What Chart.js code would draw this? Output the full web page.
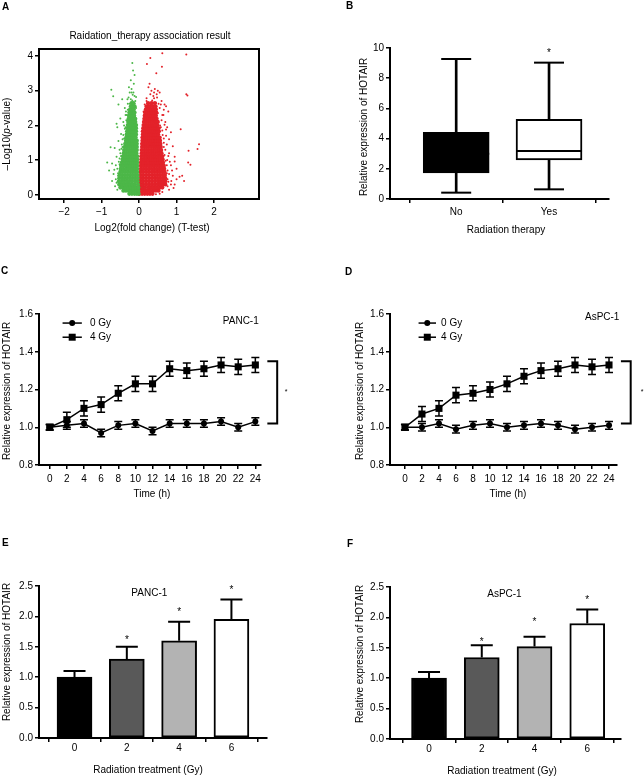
<!DOCTYPE html>
<html>
<head>
<meta charset="utf-8">
<script src="https://cdn.jsdelivr.net/npm/chart.js@4.4.1/dist/chart.umd.min.js"></script>
<style>
html, body { margin: 0; padding: 0; background: #fff; }
#fig { position: relative; width: 644px; height: 776px; overflow: hidden; font-family: 'Liberation Sans', Arial, sans-serif; }
#fig canvas { position: absolute; left: 0; top: 0; }
.lbl { position: absolute; font-weight: bold; font-size: 10px; line-height: 10px; }
</style>
</head>
<body>
<div id="fig">
  <canvas id="cA" width="644" height="776"></canvas>
  <canvas id="cB" width="644" height="776"></canvas>
  <canvas id="cC" width="644" height="776"></canvas>
  <canvas id="cD" width="644" height="776"></canvas>
  <canvas id="cE" width="644" height="776"></canvas>
  <canvas id="cF" width="644" height="776"></canvas>
  <div class="lbl" style="left:2px;top:2px">A</div>
  <div class="lbl" style="left:346px;top:1px">B</div>
  <div class="lbl" style="left:1px;top:266px">C</div>
  <div class="lbl" style="left:345px;top:267px">D</div>
  <div class="lbl" style="left:2px;top:538px">E</div>
  <div class="lbl" style="left:347px;top:539px">F</div>
</div>
<script>
const FONT = "'Liberation Sans', Arial, sans-serif";

// A: volcano plot
const volcanoXTicks = [-2, -1, 0, 1, 2];
const volcanoYTicks = [0, 1, 2, 3, 4];
const greenDense = [
  {y: 0.03, x: [-0.26, -0.19, -0.12, -0.06, -0.01]},
  {y: 0.12, x: [-0.42, -0.35, -0.28, -0.21, -0.14, -0.08, -0.02]},
  {y: 0.21, x: [-0.50, -0.43, -0.36, -0.29, -0.22, -0.15, -0.08, -0.02]},
  {y: 0.30, x: [-0.53, -0.46, -0.39, -0.32, -0.25, -0.18, -0.11, -0.03]},
  {y: 0.39, x: [-0.54, -0.47, -0.40, -0.33, -0.26, -0.19, -0.11, -0.04]},
  {y: 0.48, x: [-0.53, -0.46, -0.39, -0.32, -0.25, -0.18, -0.11, -0.04]},
  {y: 0.57, x: [-0.52, -0.45, -0.38, -0.31, -0.24, -0.17, -0.10, -0.04]},
  {y: 0.66, x: [-0.50, -0.44, -0.37, -0.30, -0.23, -0.17, -0.11, -0.05]},
  {y: 0.75, x: [-0.49, -0.42, -0.35, -0.29, -0.23, -0.17, -0.11, -0.05]},
  {y: 0.84, x: [-0.48, -0.41, -0.34, -0.28, -0.22, -0.16, -0.10, -0.05]},
  {y: 0.93, x: [-0.46, -0.39, -0.32, -0.26, -0.20, -0.15, -0.10, -0.05]},
  {y: 1.02, x: [-0.44, -0.37, -0.30, -0.24, -0.19, -0.14, -0.09, -0.05]},
  {y: 1.11, x: [-0.43, -0.36, -0.29, -0.23, -0.18, -0.13, -0.09, -0.05]},
  {y: 1.20, x: [-0.41, -0.35, -0.28, -0.22, -0.17, -0.12, -0.07]},
  {y: 1.29, x: [-0.40, -0.33, -0.27, -0.21, -0.16, -0.11, -0.06]},
  {y: 1.38, x: [-0.38, -0.32, -0.26, -0.20, -0.15, -0.10, -0.06]},
  {y: 1.47, x: [-0.37, -0.31, -0.25, -0.19, -0.14, -0.10, -0.06]},
  {y: 1.56, x: [-0.35, -0.29, -0.24, -0.18, -0.13, -0.09, -0.06]},
  {y: 1.65, x: [-0.34, -0.28, -0.23, -0.18, -0.13, -0.09]},
  {y: 1.74, x: [-0.33, -0.27, -0.22, -0.17, -0.12, -0.08]},
  {y: 1.83, x: [-0.32, -0.26, -0.21, -0.16, -0.12, -0.08]},
  {y: 1.92, x: [-0.31, -0.25, -0.20, -0.16, -0.12, -0.08]},
  {y: 2.01, x: [-0.30, -0.25, -0.20, -0.15, -0.11, -0.08]},
  {y: 2.10, x: [-0.29, -0.24, -0.19, -0.14, -0.10]},
  {y: 2.19, x: [-0.28, -0.23, -0.18, -0.14, -0.10]},
  {y: 2.28, x: [-0.27, -0.22, -0.17, -0.13]},
  {y: 2.37, x: [-0.26, -0.21, -0.16, -0.12]},
  {y: 2.46, x: [-0.24, -0.19, -0.14]},
  {y: 2.55, x: [-0.22, -0.17, -0.12]},
  {y: 2.64, x: [-0.20, -0.15]}
];
const redDense = [
  {y: 0.03, x: [0.01, 0.08, 0.15, 0.22, 0.29, 0.36]},
  {y: 0.12, x: [0.02, 0.09, 0.16, 0.23, 0.30, 0.38, 0.45, 0.52]},
  {y: 0.21, x: [0.02, 0.09, 0.16, 0.24, 0.31, 0.39, 0.47, 0.55, 0.62]},
  {y: 0.30, x: [0.03, 0.10, 0.18, 0.26, 0.34, 0.42, 0.50, 0.57, 0.64, 0.70]},
  {y: 0.39, x: [0.03, 0.10, 0.18, 0.26, 0.34, 0.42, 0.50, 0.57, 0.64, 0.70]},
  {y: 0.48, x: [0.04, 0.11, 0.19, 0.27, 0.35, 0.43, 0.50, 0.57, 0.64, 0.70]},
  {y: 0.57, x: [0.04, 0.11, 0.19, 0.27, 0.35, 0.42, 0.49, 0.56, 0.63, 0.69]},
  {y: 0.66, x: [0.04, 0.11, 0.19, 0.26, 0.34, 0.41, 0.48, 0.55, 0.62, 0.68]},
  {y: 0.75, x: [0.05, 0.12, 0.19, 0.26, 0.33, 0.40, 0.47, 0.54, 0.61, 0.67]},
  {y: 0.84, x: [0.05, 0.12, 0.19, 0.26, 0.33, 0.40, 0.47, 0.54, 0.60, 0.66]},
  {y: 0.93, x: [0.05, 0.12, 0.19, 0.26, 0.33, 0.39, 0.45, 0.52, 0.58, 0.64]},
  {y: 1.02, x: [0.06, 0.13, 0.20, 0.26, 0.32, 0.38, 0.44, 0.51, 0.57, 0.63]},
  {y: 1.11, x: [0.06, 0.13, 0.20, 0.26, 0.32, 0.38, 0.44, 0.50, 0.56, 0.62]},
  {y: 1.20, x: [0.07, 0.14, 0.20, 0.26, 0.32, 0.38, 0.44, 0.50, 0.55, 0.60]},
  {y: 1.29, x: [0.07, 0.14, 0.20, 0.26, 0.32, 0.38, 0.44, 0.49, 0.54, 0.59]},
  {y: 1.38, x: [0.08, 0.14, 0.20, 0.26, 0.32, 0.38, 0.43, 0.48, 0.53, 0.58]},
  {y: 1.47, x: [0.08, 0.14, 0.20, 0.26, 0.32, 0.37, 0.42, 0.47, 0.52, 0.57]},
  {y: 1.56, x: [0.09, 0.15, 0.21, 0.27, 0.33, 0.38, 0.43, 0.47, 0.51, 0.56]},
  {y: 1.65, x: [0.09, 0.15, 0.21, 0.27, 0.33, 0.38, 0.42, 0.46, 0.50, 0.55]},
  {y: 1.74, x: [0.10, 0.16, 0.22, 0.28, 0.33, 0.38, 0.42, 0.46, 0.51]},
  {y: 1.83, x: [0.10, 0.16, 0.22, 0.28, 0.33, 0.38, 0.43, 0.48, 0.53]},
  {y: 1.92, x: [0.11, 0.17, 0.23, 0.29, 0.34, 0.39, 0.43, 0.47, 0.52]},
  {y: 2.01, x: [0.12, 0.18, 0.24, 0.30, 0.35, 0.40, 0.44, 0.49]},
  {y: 2.10, x: [0.13, 0.19, 0.25, 0.31, 0.36, 0.41, 0.45, 0.50]},
  {y: 2.19, x: [0.14, 0.20, 0.26, 0.31, 0.36, 0.42, 0.47]},
  {y: 2.28, x: [0.15, 0.21, 0.27, 0.33, 0.39, 0.45]},
  {y: 2.37, x: [0.16, 0.22, 0.28, 0.34, 0.40, 0.46]},
  {y: 2.46, x: [0.18, 0.25, 0.32, 0.39, 0.45]},
  {y: 2.55, x: [0.20, 0.28, 0.36, 0.44]},
  {y: 2.64, x: [0.24, 0.33, 0.42]}
];
const greenSparse = [
  [-0.74, 3.03], [-0.69, 2.84], [-0.18, 3.80], [-0.16, 3.58], [-0.12, 3.45], [-0.22, 3.30],
  [-0.27, 3.10], [-0.14, 3.20], [-0.20, 2.95], [-0.31, 2.75], [-0.12, 2.85], [-0.25, 2.62],
  [-0.10, 2.70], [-0.55, 2.60], [-0.45, 2.75], [-0.38, 2.50], [-0.30, 2.45], [-0.60, 2.05],
  [-0.58, 1.95], [-0.50, 2.20], [-0.42, 2.10], [-0.36, 2.30], [-0.38, 1.90], [-0.48, 1.75],
  [-0.44, 1.60], [-0.55, 1.55], [-0.65, 1.35], [-0.76, 1.37], [-0.52, 1.30], [-0.50, 1.20],
  [-0.60, 1.10], [-0.85, 0.93], [-0.72, 0.90], [-0.62, 0.85], [-0.58, 0.75], [-0.80, 0.70],
  [-0.68, 0.60], [-0.62, 0.45], [-0.72, 0.40], [-0.64, 0.25], [-0.58, 0.15], [-0.54, 0.95],
  [-0.46, 1.45], [-0.40, 2.00], [-0.34, 2.15], [-0.28, 2.80], [-0.18, 2.72], [-0.15, 2.95],
  [-0.08, 2.50], [-0.20, 3.05], [-0.17, 2.88], [-0.25, 2.95], [-0.56, 0.55], [-0.66, 0.72],
  [-0.52, 1.05], [-0.47, 1.33], [-0.42, 1.72], [-0.35, 2.40], [-0.30, 2.62], [-0.33, 2.30],
  [-0.36, 1.95], [-0.40, 1.62], [-0.44, 1.38], [-0.48, 1.12], [-0.52, 0.88], [-0.56, 0.62],
  [-0.60, 0.35], [-0.12, 2.62], [-0.08, 2.82], [-0.22, 2.75], [-0.27, 2.45]
];
const redSparse = [
  [0.62, 4.08], [1.26, 4.04], [0.30, 3.94], [0.21, 3.77], [0.61, 3.69], [0.46, 3.50],
  [1.26, 2.90], [1.29, 2.86], [1.11, 1.89], [1.60, 1.46], [1.56, 1.32], [1.32, 1.27],
  [1.31, 0.93], [1.37, 0.87], [0.95, 0.96], [1.08, 0.52], [0.86, 0.40], [0.25, 3.10],
  [0.33, 3.00], [0.42, 3.05], [0.50, 3.00], [0.55, 2.95], [0.48, 2.80], [0.38, 2.85],
  [0.30, 2.90], [0.20, 2.70], [0.60, 2.70], [0.68, 2.60], [0.72, 2.55], [0.78, 2.40],
  [0.65, 2.30], [0.55, 2.50], [0.45, 2.65], [0.20, 2.78], [0.50, 2.35], [0.60, 2.15],
  [0.70, 2.10], [0.75, 1.95], [0.85, 1.80], [0.62, 1.85], [0.56, 2.00], [0.80, 1.60],
  [0.72, 1.70], [0.66, 1.50], [0.90, 1.40], [0.70, 1.30], [0.80, 1.20], [0.68, 1.15],
  [0.95, 1.10], [0.75, 1.00], [0.74, 0.85], [0.85, 0.85], [1.00, 0.75], [0.76, 0.70],
  [0.80, 0.60], [0.90, 0.55], [1.00, 0.45], [0.76, 0.45], [0.85, 0.30], [0.76, 0.25],
  [0.95, 0.30], [1.15, 0.55], [0.62, 0.08], [0.55, 0.03], [0.45, 0.02], [0.80, 0.15],
  [0.92, 0.20], [1.20, 0.40], [0.35, 2.72], [0.40, 2.95], [0.28, 3.20], [0.58, 2.60],
  [0.72, 1.88], [0.68, 2.02], [0.74, 1.45], [0.66, 1.62], [0.78, 1.12], [0.71, 0.98],
  [0.74, 0.62], [0.78, 0.38], [0.70, 0.50], [0.66, 1.38], [0.62, 2.30], [0.52, 2.62],
  [0.40, 2.78], [0.30, 2.62], [0.24, 2.50], [0.58, 1.95], [0.63, 1.72], [0.68, 0.80],
  [0.82, 0.95], [0.88, 0.70], [0.66, 2.45], [0.47, 2.90], [0.15, 2.60], [0.12, 2.40]
];

// B: box plot
const boxGroups = ['No', 'Yes'];
const boxMin = [0.42, 0.64];
const boxQ1 = [1.72, 2.58];
const boxMedian = [3.0, 3.18];
const boxQ3 = [4.41, 5.28];
const boxMax = [9.27, 9.03];
const boxYTicks = [0, 2, 4, 6, 8, 10];
const boxFill = ['#000000', '#ffffff'];

// C, D: time course
const hours = [0, 2, 4, 6, 8, 10, 12, 14, 16, 18, 20, 22, 24];
const timeYTicks = [0.8, 1.0, 1.2, 1.4, 1.6];
const panc0Gy = [1.00, 1.01, 1.02, 0.97, 1.01, 1.02, 0.98, 1.02, 1.02, 1.02, 1.03, 1.00, 1.03];
const panc0GyErr = [0.015, 0.02, 0.02, 0.02, 0.02, 0.02, 0.02, 0.02, 0.02, 0.02, 0.02, 0.02, 0.02];
const panc4Gy = [1.00, 1.04, 1.10, 1.12, 1.18, 1.23, 1.23, 1.31, 1.30, 1.31, 1.33, 1.32, 1.33];
const panc4GyErr = [0.015, 0.04, 0.04, 0.04, 0.04, 0.04, 0.04, 0.04, 0.04, 0.04, 0.04, 0.04, 0.04];
const aspc0Gy = [1.00, 1.00, 1.02, 0.99, 1.01, 1.02, 1.00, 1.01, 1.02, 1.01, 0.99, 1.00, 1.01];
const aspc0GyErr = [0.015, 0.02, 0.02, 0.02, 0.02, 0.02, 0.02, 0.02, 0.02, 0.02, 0.02, 0.02, 0.02];
const aspc4Gy = [1.00, 1.07, 1.10, 1.17, 1.18, 1.20, 1.23, 1.27, 1.30, 1.31, 1.33, 1.32, 1.33];
const aspc4GyErr = [0.015, 0.04, 0.04, 0.04, 0.04, 0.04, 0.04, 0.04, 0.04, 0.04, 0.04, 0.04, 0.04];

// E, F: dose response
const doseLabels = ['0', '2', '4', '6'];
const doseYTicks = [0, 0.5, 1.0, 1.5, 2.0, 2.5];
const pancDose = [1.00, 1.30, 1.60, 1.95];
const pancDoseErr = [0.10, 0.20, 0.31, 0.33];
const pancStars = [null, 1.65, 2.12, 2.48];
const aspcDose = [1.00, 1.34, 1.52, 1.90];
const aspcDoseErr = [0.10, 0.20, 0.16, 0.23];
const aspcStars = [null, 1.64, 1.97, 2.33];
const barColors = ['#000000', '#595959', '#b3b3b3', '#ffffff'];

// ---------- plugins ----------
const errorBars = {
  id: 'errorBars',
  afterDatasetsDraw(chart) {
    const ctx = chart.ctx, ys = chart.scales.y;
    chart.data.datasets.forEach((ds, i) => {
      if (!ds.errors) return;
      const meta = chart.getDatasetMeta(i);
      ctx.save();
      ctx.strokeStyle = '#000';
      ctx.lineWidth = ds.errorWidth || 1.5;
      meta.data.forEach((el, j) => {
        const v = ds.data[j].y, e = ds.errors[j], cap = ds.capHalf;
        const top = ys.getPixelForValue(v + e);
        const bot = ds.errorUp ? el.y : ys.getPixelForValue(v - e);
        ctx.beginPath();
        ctx.moveTo(el.x, top); ctx.lineTo(el.x, bot);
        ctx.moveTo(el.x - cap, top); ctx.lineTo(el.x + cap, top);
        if (!ds.errorUp) { ctx.moveTo(el.x - cap, bot); ctx.lineTo(el.x + cap, bot); }
        ctx.stroke();
      });
      ctx.restore();
    });
  }
};

const extras = {
  id: 'extras',
  afterDraw(chart, args, o) {
    const ctx = chart.ctx, xs = chart.scales.x, ys = chart.scales.y, a = chart.chartArea;
    ctx.save();
    ctx.fillStyle = '#000';
    ctx.strokeStyle = '#000';
    if (o.frame) {
      ctx.lineWidth = 2;
      ctx.strokeRect(a.left, a.top, a.right - a.left, a.bottom - a.top);
    }
    (o.titles || []).forEach(t => {
      ctx.save();
      ctx.translate(t.px, t.py);
      if (t.rotate) ctx.rotate(-Math.PI / 2);
      const parts = t.parts || [{text: t.text}];
      let total = 0;
      parts.forEach(p => {
        ctx.font = (p.italic ? 'italic ' : '') + t.size + 'px ' + FONT;
        p.w = ctx.measureText(p.text).width;
        total += p.w;
      });
      let cx = -total / 2;
      ctx.textBaseline = 'middle';
      ctx.textAlign = 'left';
      parts.forEach(p => {
        ctx.font = (p.italic ? 'italic ' : '') + t.size + 'px ' + FONT;
        ctx.fillText(p.text, cx, 0);
        cx += p.w;
      });
      ctx.restore();
    });
    (o.texts || []).forEach(t => {
      ctx.font = t.size + 'px ' + FONT;
      ctx.textAlign = 'center';
      const x = xs.getPixelForValue(t.x), y = ys.getPixelForValue(t.y);
      if (t.star) {
        ctx.textBaseline = 'alphabetic';
        ctx.fillText(t.text, x, y + t.size * 0.58);
      } else {
        ctx.textBaseline = 'middle';
        ctx.fillText(t.text, x, y);
      }
    });
    if (o.bracket) {
      const b = o.bracket;
      const x0 = xs.getPixelForValue(b.x0), x1 = xs.getPixelForValue(b.x1);
      const y0 = ys.getPixelForValue(b.top), y1 = ys.getPixelForValue(b.bottom);
      ctx.lineWidth = 2;
      ctx.beginPath();
      ctx.moveTo(x0, y0); ctx.lineTo(x1, y0); ctx.lineTo(x1, y1); ctx.lineTo(x0, y1);
      ctx.stroke();
    }
    (o.legend || []).forEach(l => {
      const x0 = xs.getPixelForValue(l.x0), x1 = xs.getPixelForValue(l.x1);
      const y = ys.getPixelForValue(l.y), xm = (x0 + x1) / 2;
      ctx.lineWidth = 1.5;
      ctx.beginPath(); ctx.moveTo(x0, y); ctx.lineTo(x1, y); ctx.stroke();
      ctx.beginPath();
      if (l.marker === 'circle') ctx.arc(xm, y, 3, 0, Math.PI * 2);
      else ctx.rect(xm - 3.5, y - 3.5, 7, 7);
      ctx.fill();
      ctx.font = '10px ' + FONT;
      ctx.textAlign = 'left';
      ctx.textBaseline = 'middle';
      ctx.fillText(l.text, xs.getPixelForValue(l.xt), y);
    });
    ctx.restore();
  }
};

// ---------- helpers ----------
function axis(opts) {
  return Object.assign({
    type: 'linear',
    offset: false,
    border: { display: true, color: '#000', width: 2 },
    grid: { display: true, drawOnChartArea: false, drawTicks: true, tickLength: 4, color: '#000', lineWidth: 1.5 },
    ticks: { color: '#000', font: { family: FONT, size: 10 }, padding: 2, autoSkip: false, maxRotation: 0 }
  }, opts);
}
function ticksFrom(list) {
  return s => { s.ticks = list.map(v => ({ value: v })); };
}
function build(id, area, type, data, xOpts, yOpts, extraOpts) {
  const x = axis(xOpts), y = axis(yOpts);
  x.afterFit = s => { s.height = 30; };
  y.afterFit = s => { s.width = 30; };
  if (xOpts.tickPadding !== undefined) x.ticks = Object.assign({}, x.ticks, { padding: xOpts.tickPadding });
  if (xOpts.cb) x.ticks = Object.assign({}, x.ticks, { callback: xOpts.cb });
  if (yOpts.cb) y.ticks = Object.assign({}, y.ticks, { callback: yOpts.cb });
  delete x.cb; delete y.cb; delete x.tickPadding;
  return new Chart(document.getElementById(id), {
    type: type,
    data: data,
    options: {
      responsive: false,
      animation: false,
      events: [],
      layout: { padding: { left: area.l - 30, top: area.t, right: 644 - area.r, bottom: 776 - area.b - 30 } },
      plugins: { legend: { display: false }, tooltip: { enabled: false }, extras: extraOpts },
      scales: { x: x, y: y }
    },
    plugins: [errorBars, extras]
  });
}
const signed = v => (v < 0 ? '\u2212' + Math.abs(v) : String(v));
const oneDec = v => v.toFixed(1);
const flatten = rows => rows.flatMap(r => r.x.map(x => ({ x: x, y: r.y })));
const pairs = list => list.map(p => ({ x: p[0], y: p[1] }));
const dots = (data, color, r) => ({ data: data, backgroundColor: color, borderWidth: 0, pointRadius: r, pointHoverRadius: r });

// ---------- A ----------
build('cA', { l: 39, r: 259, t: 49, b: 199 }, 'scatter', {
  datasets: [
    dots(flatten(greenDense), '#4cb748', 2.1),
    dots(flatten(redDense), '#e3222a', 2.1),
    dots(pairs(greenSparse), '#4cb748', 1),
    dots(pairs(redSparse), '#e3222a', 1)
  ]
},
{ min: -2.67, max: 3.2, afterBuildTicks: ticksFrom(volcanoXTicks), cb: signed, tickPadding: 3 },
{ min: -0.12, max: 4.2, afterBuildTicks: ticksFrom(volcanoYTicks), cb: signed },
{
  frame: true,
  titles: [
    { text: 'Raidation_therapy association result', size: 10, px: 150, py: 36 },
    { text: 'Log2(fold change) (T-test)', size: 10, px: 152, py: 228 },
    { parts: [{ text: '\u2013Log10(' }, { text: 'p', italic: true }, { text: '-value)' }], size: 10, px: 7, py: 134, rotate: true }
  ]
});

// ---------- B ----------
build('cB', { l: 390, r: 620, t: 48, b: 199 }, 'bar', {
  datasets: [
    { type: 'scatter', data: boxMedian.map((v, i) => ({ x: i, y: v })), pointStyle: 'line', pointRadius: 33,
      borderColor: '#000', borderWidth: 2, order: 0 },
    { data: boxQ1.map((v, i) => ({ x: i, y: [v, boxQ3[i]] })), backgroundColor: boxFill, borderColor: '#000',
      borderWidth: 2, borderSkipped: false, barThickness: 66, grouped: false, order: 1 },
    { type: 'scatter', data: boxMin.map((v, i) => ({ x: i, y: v })).concat(boxMax.map((v, i) => ({ x: i, y: v }))),
      pointStyle: 'line', pointRadius: 15, borderColor: '#000', borderWidth: 2, order: 2 },
    { data: boxMin.map((v, i) => ({ x: i, y: [v, boxMax[i]] })), backgroundColor: '#000', borderWidth: 0,
      barThickness: 2, grouped: false, order: 3 }
  ]
},
{ min: -0.713, max: 1.646, afterBuildTicks: ticksFrom([0, 1]), cb: (v, i) => boxGroups[i], tickPadding: 3 },
{ min: 0, max: 10, afterBuildTicks: ticksFrom(boxYTicks) },
{
  titles: [
    { text: 'Radiation therapy', size: 10, px: 506, py: 230 },
    { text: 'Relative expression of HOTAIR', size: 10, px: 364, py: 127, rotate: true }
  ],
  texts: [{ text: '*', x: 1, y: 9.85, size: 10, star: true }]
});

// ---------- C, D ----------
function timeChart(id, area, xmin, xmax, zero, four, zeroErr, fourErr, cell, opts) {
  const ln = (vals, errs, style, r) => ({
    data: hours.map((h, i) => ({ x: h, y: vals[i] })), errors: errs, capHalf: 4,
    borderColor: '#000', backgroundColor: '#000', borderWidth: 1.5, pointStyle: style,
    pointRadius: r, pointHoverRadius: r, pointBorderWidth: 0, tension: 0, fill: false
  });
  build(id, area, 'line', {
    datasets: [ln(zero, zeroErr, 'circle', 3), ln(four, fourErr, 'rect', 5)]
  },
  { min: xmin, max: xmax, afterBuildTicks: ticksFrom(hours), tickPadding: 4 },
  { min: 0.8, max: 1.6, afterBuildTicks: ticksFrom(timeYTicks), cb: oneDec },
  {
    titles: [
      { text: 'Time (h)', size: 10, px: opts.xTitleX, py: 494 },
      { text: 'Relative expression of HOTAIR', size: 10, px: opts.yTitleX, py: 391, rotate: true }
    ],
    texts: [
      { text: cell, x: opts.cellX, y: opts.cellY, size: 10 },
      { text: '*', x: opts.starX, y: 1.196, size: 7, star: true }
    ],
    bracket: { x0: 25.4, x1: 26.55, top: 1.35, bottom: 1.02 },
    legend: [
      { text: '0 Gy', marker: 'circle', x0: opts.lx0, x1: opts.lx1, xt: opts.lxt, y: 1.552 },
      { text: '4 Gy', marker: 'rect', x0: opts.lx0, x1: opts.lx1, xt: opts.lxt, y: 1.477 }
    ]
  });
}
timeChart('cC', { l: 39, r: 261, t: 314, b: 465 }, -1.25, 24.66, panc0Gy, panc4Gy, panc0GyErr, panc4GyErr, 'PANC-1',
  { xTitleX: 152, yTitleX: 7, cellX: 22.3, cellY: 1.56, starX: 27.6, lx0: 1.5, lx1: 3.75, lxt: 4.7 });
timeChart('cD', { l: 390, r: 617, t: 314, b: 465 }, -1.76, 24.94, aspc0Gy, aspc4Gy, aspc0GyErr, aspc4GyErr, 'AsPC-1',
  { xTitleX: 508, yTitleX: 360, cellX: 23.2, cellY: 1.585, starX: 27.9, lx0: 1.6, lx1: 3.65, lxt: 4.25 });

// ---------- E, F ----------
function doseChart(id, area, xmin, xmax, vals, errs, stars, cell, opts) {
  const texts = [{ text: cell, x: 1.43, y: 2.376, size: 10 }];
  stars.forEach((s, i) => { if (s !== null) texts.push({ text: '*', x: i, y: s, size: 10, star: true }); });
  build(id, area, 'bar', {
    datasets: [{
      data: vals.map((v, i) => ({ x: i, y: v })), errors: errs, errorUp: true, capHalf: 11, errorWidth: 2,
      backgroundColor: barColors, borderColor: '#000', borderWidth: 2, borderSkipped: false,
      barThickness: 35, grouped: false
    }]
  },
  { min: xmin, max: xmax, afterBuildTicks: ticksFrom([0, 1, 2, 3]), cb: (v, i) => doseLabels[i], tickPadding: 0 },
  { min: 0, max: 2.5, afterBuildTicks: ticksFrom(doseYTicks), cb: oneDec },
  {
    titles: [
      { text: 'Radiation treatment (Gy)', size: 10, px: opts.xTitleX, py: opts.xTitleY },
      { text: 'Relative expression of HOTAIR', size: 10, px: opts.yTitleX, py: opts.yTitleY, rotate: true }
    ],
    texts: texts
  });
}
doseChart('cE', { l: 39, r: 267, t: 586, b: 738 }, -0.679, 3.68, pancDose, pancDoseErr, pancStars, 'PANC-1',
  { xTitleX: 148, xTitleY: 770, yTitleX: 7, yTitleY: 652 });
doseChart('cF', { l: 390, r: 621, t: 587, b: 739 }, -0.74, 3.64, aspcDose, aspcDoseErr, aspcStars, 'AsPC-1',
  { xTitleX: 502, xTitleY: 771, yTitleX: 360, yTitleY: 654 });
</script>
</body>
</html>
